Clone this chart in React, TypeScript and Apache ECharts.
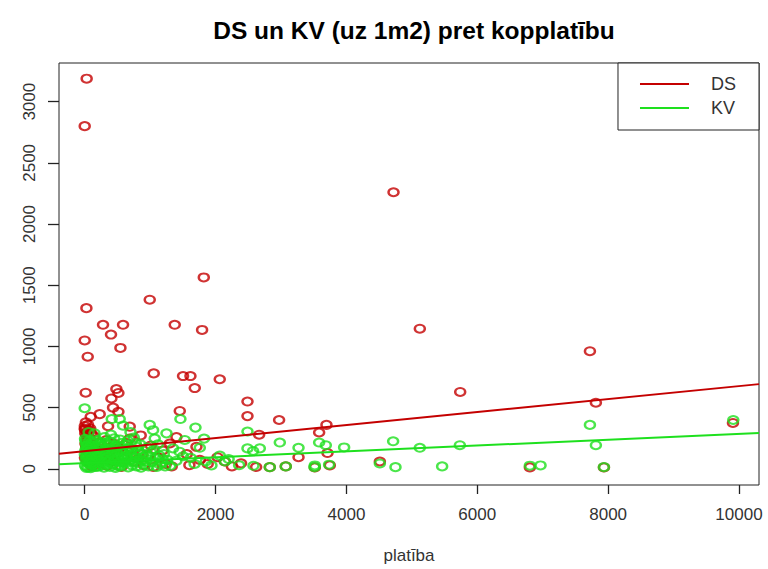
import React, { useEffect, useRef } from "react";
import * as echarts from "echarts";

const titleText = "DS un KV (uz 1m2) pret kopplatību";
const xName = "platība";
const xTicks = [0, 2000, 4000, 6000, 8000, 10000];
const yTicks = [0, 500, 1000, 1500, 2000, 2500, 3000];
const X_MIN = -393;
const X_MAX = 10306;
const Y_MIN = -132;
const Y_MAX = 3316;

// DS (uz 1m2) vs platība
const dsPoints: number[][] = [
  [30, 3188], [0, 2800], [26, 1313], [0, 1049], [46, 916], [280, 1177], [402, 1097], [586, 1177],
  [546, 988], [15, 622], [484, 652], [515, 620], [408, 575], [433, 500], [515, 466], [92, 425],
  [229, 447], [51, 359], [357, 348], [688, 345], [0, 327], [76, 313], [26, 273], [994, 1382],
  [1055, 780], [1376, 1177], [1794, 1135], [1820, 1564], [1503, 758], [1616, 758], [2064, 732],
  [1682, 660], [2488, 550], [1453, 473], [2488, 431], [2971, 399], [3695, 359], [3583, 297],
  [688, 247], [856, 273], [1402, 260], [2666, 279], [968, 113], [663, 140], [815, 82], [1300, 207],
  [1708, 180], [1759, 73], [2141, 60], [3268, 95], [3711, 129], [4720, 2260], [5122, 1145],
  [5739, 628], [7722, 961], [7813, 540], [9908, 375], [6804, 12], [3517, 12], [3746, 28],
  [4511, 60], [7936, 12], [2829, 14], [3073, 20],
  [8, 290], [34, 240], [12, 205], [58, 190], [95, 230], [140, 265], [22, 175], [70, 150],
  [118, 205], [160, 180], [190, 120], [245, 210], [300, 165], [330, 235], [270, 95], [395, 150],
  [450, 205], [470, 120], [520, 170], [600, 95], [640, 210], [720, 160], [760, 60], [880, 120],
  [1010, 190], [1120, 90], [1190, 150], [1240, 40], [1560, 120], [1600, 30], [1880, 40],
  [2030, 95], [2250, 20], [2390, 45], [2620, 15], [165, 40], [340, 25], [420, 60], [560, 15],
  [905, 30], [1050, 15], [1330, 20], [4, 90], [40, 60], [110, 20], [205, 70], [380, 100],
  [2, 350], [18, 380], [6, 320], [44, 300], [64, 260], [84, 330], [30, 215], [100, 290],
];

// KV (uz 1m2) vs platība
const kvPoints: number[][] = [
  [0, 495], [413, 407], [535, 407], [994, 359], [1045, 316], [1463, 407], [1693, 337], [586, 353],
  [2488, 305], [2982, 215], [3268, 172], [3583, 215], [3685, 193], [1824, 247], [1759, 172],
  [1529, 236], [2488, 167], [2574, 146], [2676, 167], [2064, 108], [2145, 60], [1937, 28],
  [2829, 14], [3073, 20], [3512, 14], [3736, 34], [1070, 247], [1350, 167], [1503, 103],
  [3965, 175], [4714, 225], [5122, 172], [5734, 193], [3517, 28], [4511, 44], [4750, 14],
  [5463, 20], [6804, 26], [6967, 28], [7722, 359], [7813, 193], [7936, 14], [9913, 399],
  [5, 245], [18, 210], [32, 178], [10, 150], [44, 132], [3, 118], [27, 96], [60, 88], [15, 70],
  [38, 52], [72, 40], [6, 25], [50, 12], [90, 5], [24, 8], [110, 222], [128, 190], [96, 168],
  [145, 150], [80, 128], [170, 112], [132, 86], [190, 70], [155, 48], [115, 30], [210, 18],
  [180, 236], [225, 205], [260, 182], [240, 140], [285, 122], [205, 98], [310, 76], [265, 55],
  [340, 36], [295, 10], [380, 226], [355, 195], [410, 170], [440, 150], [372, 128], [460, 105],
  [405, 82], [490, 64], [430, 40], [515, 22], [470, 8], [540, 240], [575, 212], [520, 188],
  [610, 160], [560, 138], [650, 115], [600, 92], [690, 70], [630, 48], [720, 28], [665, 12],
  [750, 255], [780, 210], [800, 180], [705, 150], [840, 120], [770, 96], [880, 72], [820, 50],
  [920, 30], [860, 10], [960, 175], [1010, 140], [940, 110], [1085, 85], [1030, 55], [1150, 35],
  [1100, 15], [1210, 120], [1260, 75], [1180, 50], [1310, 25], [1400, 65], [1450, 140],
  [1620, 90], [1680, 40], [1850, 60], [2200, 80], [2360, 30], [2580, 25], [1250, 290],
  [1120, 200], [400, 280], [150, 290], [60, 300], [300, 260], [700, 300],
  [20, 160], [55, 200], [85, 60], [120, 140], [175, 20], [250, 100], [330, 160], [480, 30],
  [35, 110], [70, 230], [140, 210], [200, 45], [320, 210], [450, 250], [590, 50], [660, 230],
  [12, 230], [28, 190], [48, 160], [66, 140], [88, 110], [104, 80], [122, 55], [138, 35],
  [160, 15], [182, 95], [198, 130], [218, 160], [236, 190], [252, 220], [276, 30], [298, 50],
  [318, 120], [336, 95], [364, 60], [386, 15], [412, 120], [428, 195], [446, 70], [474, 175],
  [496, 135], [508, 95], [532, 55], [552, 20], [570, 100], [596, 130], [622, 200], [644, 85],
  [676, 170], [712, 110], [735, 55], [762, 130], [790, 20], [815, 150], [850, 200], [895, 95],
  [930, 60], [975, 20], [1000, 100], [1060, 160], [1140, 110], [1190, 80], [1230, 20],
];

// Regression fits: [intercept, slope]
const dsFit = [145, 0.0531];
const kvFit = [47, 0.0239];

const DS_COLOR = "#C40000";
const KV_COLOR = "#1EE01E";
const AXIS_COLOR = "#222";
const FONT = "'Liberation Sans', Arial, sans-serif";

export default function App() {
  const ref = useRef<HTMLDivElement>(null);
  useEffect(() => {
    document.body.style.margin = "0";
    const chart = echarts.init(ref.current!, null, { renderer: "svg" });
    const fitLine = (f: number[]) => [
      [X_MIN, f[0] + f[1] * X_MIN],
      [X_MAX, f[0] + f[1] * X_MAX],
    ];
    const pointStyle = (c: string) => ({
      color: "transparent",
      borderColor: c,
      borderWidth: 2.2,
    });
    const plain = (v: number) => String(v);
    chart.setOption({
      animation: false,
      backgroundColor: "#fff",
      textStyle: { fontFamily: FONT },
      title: {
        text: titleText,
        left: 409,
        textAlign: "center",
        top: 13,
        textStyle: { fontSize: 24.5, fontWeight: "bold", color: "#000", fontFamily: FONT },
      },
      grid: {
        left: 59,
        right: 9,
        top: 63,
        bottom: 75,
        show: true,
        borderColor: AXIS_COLOR,
        borderWidth: 1,
        backgroundColor: "transparent",
      },
      legend: {
        data: [
          { name: "DS", icon: "rect" },
          { name: "KV", icon: "rect" },
        ],
        orient: "vertical",
        right: 9,
        top: 63,
        itemWidth: 49,
        itemHeight: 2,
        itemGap: 4,
        padding: [11, 23, 12, 22],
        borderColor: AXIS_COLOR,
        borderWidth: 1,
        backgroundColor: "#fff",
        textStyle: { fontSize: 18, color: "#333", lineHeight: 20, padding: [0, 0, 0, 17], fontFamily: FONT },
      },
      xAxis: {
        type: "value",
        min: X_MIN,
        max: X_MAX,
        axisLine: { show: false, onZero: false },
        splitLine: { show: false },
        axisTick: { show: true, customValues: xTicks, length: 9, lineStyle: { color: AXIS_COLOR, width: 1.3 } },
        axisLabel: { customValues: xTicks, formatter: plain, fontSize: 17, color: "#333", margin: 21, fontFamily: FONT },
        name: xName,
        nameLocation: "middle",
        nameGap: 62,
        nameTextStyle: { fontSize: 17, color: "#333", fontFamily: FONT },
      },
      yAxis: {
        type: "value",
        min: Y_MIN,
        max: Y_MAX,
        axisLine: { show: false, onZero: false },
        splitLine: { show: false },
        axisTick: { show: true, customValues: yTicks, length: 11, lineStyle: { color: AXIS_COLOR, width: 1.3 } },
        axisLabel: {
          customValues: yTicks,
          formatter: plain,
          fontSize: 17,
          color: "#333",
          margin: 21,
          rotate: 90,
          align: "center",
          verticalAlign: "bottom",
          fontFamily: FONT,
        },
      },
      series: [
        {
          name: "DS punkti",
          type: "scatter",
          data: dsPoints,
          symbol: "circle",
          symbolSize: [10, 8],
          itemStyle: pointStyle(DS_COLOR),
          z: 2,
        },
        {
          name: "KV punkti",
          type: "scatter",
          data: kvPoints,
          symbol: "circle",
          symbolSize: [10, 8],
          itemStyle: pointStyle(KV_COLOR),
          z: 3,
        },
        {
          name: "DS",
          type: "line",
          data: fitLine(dsFit),
          showSymbol: false,
          color: DS_COLOR,
          lineStyle: { color: DS_COLOR, width: 2 },
          z: 4,
        },
        {
          name: "KV",
          type: "line",
          data: fitLine(kvFit),
          showSymbol: false,
          color: KV_COLOR,
          lineStyle: { color: KV_COLOR, width: 2 },
          z: 4,
        },
      ],
    });
    return () => chart.dispose();
  }, []);
  return <div ref={ref} style={{ width: 768, height: 569 }} />;
}
